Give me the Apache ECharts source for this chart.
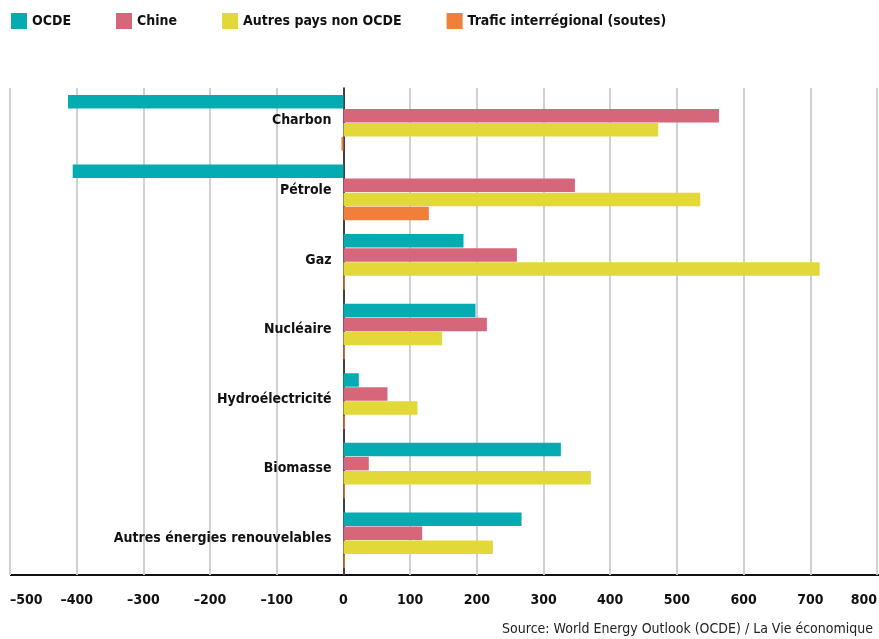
<!DOCTYPE html>
<html>
<head>
<meta charset="utf-8">
<script src="https://cdn.jsdelivr.net/npm/echarts@6/dist/echarts.min.js"></script>
<style>
  html, body { margin: 0; padding: 0; background: #fff; }
  #chart { width: 879px; height: 639px; }
</style>
</head>
<body>
<div id="chart"></div>
<script>
const categories = ['Charbon', 'Pétrole', 'Gaz', 'Nucléaire', 'Hydroélectricité', 'Biomasse', 'Autres énergies renouvelables'];
const ocde = [-413, -406, 180, 198, 23, 326, 267];
const chine = [563, 347, 260, 215, 66, 38, 118];
const autres = [472, 535, 714, 148, 111, 371, 224];
const trafic = [-3, 128, 2, 2, 2, 2, 2];
const xTicks = [-500, 800, 100];

const font = 'DejaVu Sans Condensed';
const chart = echarts.init(document.getElementById('chart'));

function bar(name, data, color) {
    return {
        name: name,
        type: 'bar',
        data: data,
        itemStyle: { color: color },
        barGap: '4%',
        barCategoryGap: '20%'
    };
}

let option = {
    animation: false,
    textStyle: { fontFamily: font },
    legend: {
        data: ['OCDE', 'Chine', 'Autres pays non OCDE', 'Trafic interrégional (soutes)'],
        left: 6,
        top: 8,
        itemWidth: 16,
        itemHeight: 16,
        itemGap: 45,
        icon: 'rect',
        textStyle: { fontFamily: font, fontWeight: 'bold', fontSize: 14, color: '#111' }
    },
    grid: { left: 10, right: 2, top: 88, bottom: 64, containLabel: false, outerBoundsMode: 'none' },
    xAxis: {
        type: 'value',
        min: xTicks[0],
        max: xTicks[1],
        interval: xTicks[2],
        axisLine: { show: false },
        axisTick: { show: false },
        splitLine: { show: true, lineStyle: { color: '#d0d0d0', width: 2 } },
        axisLabel: {
            fontFamily: font, fontWeight: 'bold', fontSize: 14, color: '#111', margin: 18,
            alignMinLabel: 'left', alignMaxLabel: 'right',
            formatter: v => v < 0 ? '\u2013' + Math.abs(v) : String(v)
        }
    },
    yAxis: {
        type: 'category',
        data: categories,
        inverse: true,
        axisLine: { show: true, onZero: true, lineStyle: { color: '#111', width: 1.5 } },
        axisTick: { show: false },
        axisLabel: { show: false }
    },
    graphic: [
        { type: 'line', shape: { x1: 10, y1: 575, x2: 879, y2: 575 }, style: { stroke: '#111', lineWidth: 2 } },
        { type: 'line', shape: { x1: 10, y1: 88, x2: 10, y2: 575 }, style: { stroke: '#d0d0d0', lineWidth: 2 } },
        {
            type: 'text', right: 6, top: 622,
            style: { text: 'Source: World Energy Outlook (OCDE) / La Vie économique', font: '14px "' + font + '"', fill: '#222' }
        }
    ],
    series: [
        bar('OCDE', ocde, '#04acb1'),
        bar('Chine', chine, '#d6667a'),
        bar('Autres pays non OCDE', autres, '#e2d839'),
        bar('Trafic interrégional (soutes)', trafic, '#ef7f3b'),
        {
            // category names drawn next to the zero line
            name: 'labels',
            type: 'scatter',
            symbolSize: 0,
            silent: true,
            z: 10,
            itemStyle: { opacity: 1 },
            data: categories.map(c => [0, c]),
            label: {
                show: true,
                position: 'left',
                distance: 12,
                offset: [0, -2],
                formatter: p => p.value[1],
                fontFamily: font, fontWeight: 'bold', fontSize: 14, color: '#111', opacity: 1
            }
        }
    ]
};
option && chart.setOption(option);
</script>
</body>
</html>
